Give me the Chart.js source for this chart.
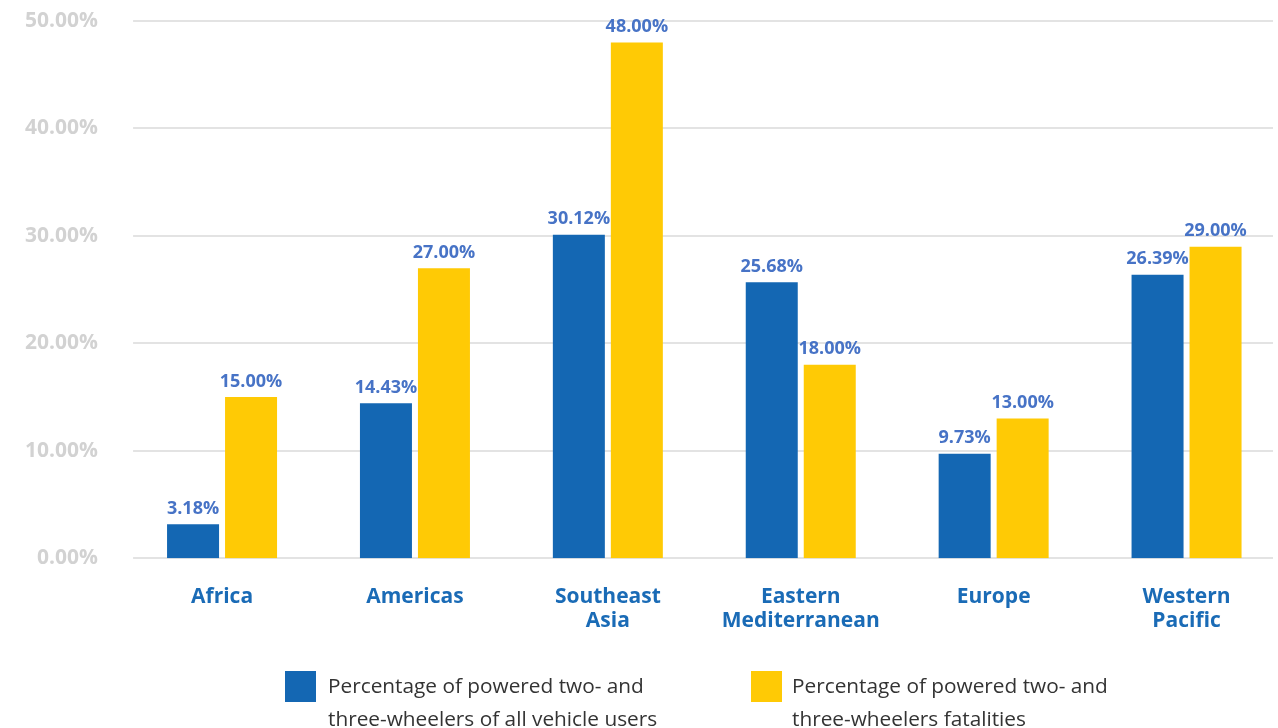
<!DOCTYPE html>
<html>
<head>
<meta charset="utf-8">
<title>Powered two- and three-wheelers by WHO region</title>
<script src="https://cdn.jsdelivr.net/npm/chart.js@4.4.1/dist/chart.umd.min.js"></script>
<style>
  html, body { margin: 0; padding: 0; background: #ffffff; width: 1278px; height: 728px; overflow: hidden; }
  #wrap { position: absolute; left: 0; top: 0; width: 1290px; height: 728px; }
  #legend { position: absolute; left: 0; top: 0; width: 1278px; height: 728px; pointer-events: none;
            font-family: "Open Sans", sans-serif; font-size: 20.8px; line-height: 33.5px; color: #333333; }
  .swatch { position: absolute; width: 31px; height: 31px; }
  .ltext { position: absolute; white-space: nowrap; }
</style>
</head>
<body>
<div id="wrap"><canvas id="chart" width="1290" height="728"></canvas></div>
<div id="legend"></div>
<script>
// Regions (multi-line where the axis label wraps)
const categories = [["Africa"], ["Americas"], ["Southeast", "Asia"], ["Eastern", "Mediterranean"], ["Europe"], ["Western", "Pacific"]];
// Share of powered two- and three-wheelers among all vehicle users (%)
const vehicleShare = [3.18, 14.43, 30.12, 25.68, 9.73, 26.39];
// Share of powered two- and three-wheelers among road fatalities (%)
const fatalityShare = [15.00, 27.00, 48.00, 18.00, 13.00, 29.00];
// Value axis ticks (%)
const yTicks = [0, 10, 20, 30, 40, 50];
// Legend wording, one entry per line
const seriesNames = [
  ["Percentage of powered two- and", "three-wheelers of all vehicle users"],
  ["Percentage of powered two- and", "three-wheelers fatalities"]
];

const BLUE = "#1467b3";
const YELLOW = "#ffca05";

// Horizontal guide lines, drawn slightly inset from the plot edges
const gridLines = {
  id: "gridLines",
  beforeDatasetsDraw(chart) {
    const { ctx, chartArea: a } = chart;
    const y = chart.scales.y;
    ctx.save();
    ctx.strokeStyle = "#e3e3e3";
    ctx.lineWidth = 2;
    y.ticks.forEach(t => {
      const py = Math.round(y.getPixelForValue(t.value));
      ctx.beginPath();
      ctx.moveTo(a.left + 7.5, py);
      ctx.lineTo(a.right - 10, py);
      ctx.stroke();
    });
    ctx.restore();
  }
};

// Value labels above each bar
const valueLabels = {
  id: "valueLabels",
  afterDatasetsDraw(chart) {
    const ctx = chart.ctx;
    ctx.save();
    ctx.font = 'bold 18px "Open Sans"';
    ctx.fillStyle = "#4773c6";
    ctx.textAlign = "center";
    ctx.textBaseline = "alphabetic";
    chart.data.datasets.forEach((ds, i) => {
      chart.getDatasetMeta(i).data.forEach((bar, j) => {
        ctx.fillText(ds.data[j].toFixed(2) + "%", bar.x, bar.y - 10.5);
      });
    });
    ctx.restore();
  }
};

function noEdgePadding(s) {
  s.paddingTop = 0;
  s.paddingBottom = 0;
  s.paddingLeft = 0;
  s.paddingRight = 0;
}

const chart = new Chart(document.getElementById("chart"), {
  type: "bar",
  data: {
    labels: categories,
    datasets: [
      { label: seriesNames[0].join(" "), data: vehicleShare, backgroundColor: BLUE,
        barPercentage: 0.8966, categoryPercentage: 0.6013 },
      { label: seriesNames[1].join(" "), data: fatalityShare, backgroundColor: YELLOW,
        barPercentage: 0.8966, categoryPercentage: 0.6013 }
    ]
  },
  options: {
    responsive: false,
    animation: false,
    devicePixelRatio: 1,
    layout: { padding: { top: 21, right: 7, bottom: 69.7, left: 0 } },
    plugins: { legend: { display: false }, tooltip: { enabled: false } },
    scales: {
      x: {
        grid: { display: false, drawTicks: false },
        border: { display: false },
        ticks: {
          color: "#1a6bb6",
          font: { family: "Open Sans", size: 21, weight: "bold", lineHeight: 24 / 21 },
          padding: 27,
          maxRotation: 0,
          autoSkip: false
        },
        afterFit(s) { s.height = 100; noEdgePadding(s); }
      },
      y: {
        min: 0,
        max: 50,
        grid: { display: false, drawTicks: false },
        border: { display: false },
        afterBuildTicks(s) { s.ticks = yTicks.map(v => ({ value: v })); },
        ticks: {
          color: "#d2d2d2",
          font: { family: "Open Sans", size: 21, weight: "bold" },
          padding: 27.6,
          callback: v => v.toFixed(2) + "%"
        },
        afterFit(s) { s.width = 125.6; noEdgePadding(s); }
      }
    }
  },
  plugins: [gridLines, valueLabels]
});

// Legend built from the datasets
const legendPos = [
  { box: 285, text: 328 },
  { box: 751, text: 792 }
];
const legend = document.getElementById("legend");
chart.data.datasets.forEach((ds, i) => {
  const sw = document.createElement("div");
  sw.className = "swatch";
  sw.style.left = legendPos[i].box + "px";
  sw.style.top = "671px";
  sw.style.background = ds.backgroundColor;
  legend.appendChild(sw);
  const tx = document.createElement("div");
  tx.className = "ltext";
  tx.style.left = legendPos[i].text + "px";
  tx.style.top = "668.5px";
  tx.innerHTML = seriesNames[i].join("<br>");
  legend.appendChild(tx);
});
</script>
</body>
</html>
